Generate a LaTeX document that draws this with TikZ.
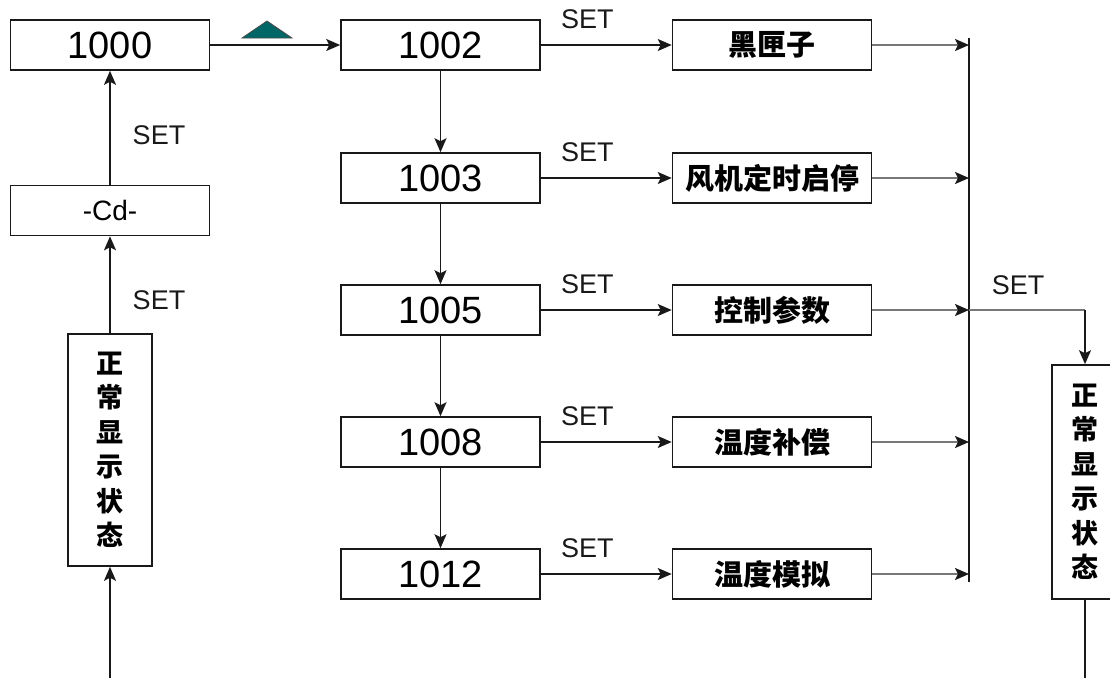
\documentclass[tikz,border=0pt]{standalone}
\usepackage{fontspec}
\setmainfont{Liberation Sans}
\newfontfamily\cjk{Noto Sans CJK SC}
\usetikzlibrary{arrows.meta}
\definecolor{teal1}{RGB}{0,102,102}
\definecolor{linkgray}{RGB}{120,120,120}
\definecolor{ink}{RGB}{25,25,25}
\begin{document}
\begin{tikzpicture}[x=1pt,y=-1pt,
  box/.style={draw=ink,line width=1.6pt,inner sep=0pt,minimum width=199pt,minimum height=50pt},
  numbox/.style={box,font=\fontsize{38}{40}\selectfont},
  cdbox/.style={box,font=\fontsize{28}{30}\selectfont},
  cnbox/.style={box,font=\cjk\bfseries\fontsize{29}{31}\selectfont},
  vbox/.style={draw=ink,line width=1.6pt,inner sep=0pt,minimum width=84pt,minimum height=232pt,align=center,font=\cjk\bfseries\fontsize{27}{34.5}\selectfont},
  arr/.style={line width=1.7pt,draw=ink,-{Stealth[length=14pt,width=12pt,inset=3pt]}},
  plain/.style={line width=1.7pt,draw=ink},
  glink/.style={line width=2.2pt,draw=linkgray,-{Stealth[length=14pt,width=12pt,inset=3pt,color=ink]}},
  setlbl/.style={font=\fontsize{27}{29}\selectfont,text=ink,inner sep=0pt}]
\clip (0,0) rectangle (1110,678);
\useasboundingbox (0,0) rectangle (1110,678);

% left column
\node[numbox] (n1000) at (110,45) {1000};
\node[cdbox] (cd) at (110,210.5) {-Cd-};
\node[vbox] (vl) at (110,450) {正\\常\\显\\示\\状\\态};
\coordinate (vlin) at (110,678);
\draw[arr] (vlin) -- (vl.south);
\draw[arr] (vl.north) -- (cd.south);
\draw[arr] (cd.north) -- (n1000.south);
\node[setlbl] (s1) at (159,135) {SET};
\node[setlbl] (s2) at (159,300) {SET};

% middle column
\node[numbox] (n1002) at (440.5,45) {1002};
\node[numbox] (n1003) at (440.5,178) {1003};
\node[numbox] (n1005) at (440.5,310) {1005};
\node[numbox] (n1008) at (440.5,442) {1008};
\node[numbox] (n1012) at (440.5,574) {1012};
\draw[arr] (n1000.east) -- (n1002.west);
\draw[arr] (n1002.south) -- (n1003.north);
\draw[arr] (n1003.south) -- (n1005.north);
\draw[arr] (n1005.south) -- (n1008.north);
\draw[arr] (n1008.south) -- (n1012.north);

% teal triangle
\filldraw[fill=teal1,draw=black!70,line width=0.8pt] (242,38) -- (267,21) -- (292,38) -- cycle;

% right column
\node[cnbox] (r1) at (772,45) {黑匣子};
\node[cnbox] (r2) at (772,178) {风机定时启停};
\node[cnbox] (r3) at (772,310) {控制参数};
\node[cnbox] (r4) at (772,442) {温度补偿};
\node[cnbox] (r5) at (772,574) {温度模拟};
\foreach \a/\b in {n1002/r1,n1003/r2,n1005/r3,n1008/r4,n1012/r5}{
  \draw[arr] (\a.east) -- (\b.west);
  \node[setlbl,anchor=west] at ([xshift=20pt,yshift=26pt]\a.east) {SET};
}

% bus
\coordinate (bt) at (969,38);
\coordinate (bb) at (969,582);
\draw[plain] (bt) -- (bb);
\foreach \b in {r1,r2,r3,r4,r5}{
  \draw[glink] (\b.east) -- (\b.east -| bt);
}
\node[vbox,minimum width=66pt,minimum height=234pt] (vr) at (1085,482) {正\\常\\显\\示\\状\\态};
\coordinate (bj) at (r3.east -| bt);
\draw[glink,-] (bj) -- (vr.north |- bj);
\draw[arr] (vr.north |- bj) -- (vr.north);
\node[setlbl] (s3) at (1018,285) {SET};
\coordinate (vrout) at (1085,678);
\draw[plain] (vr.south) -- (vrout);
\end{tikzpicture}
\end{document}
